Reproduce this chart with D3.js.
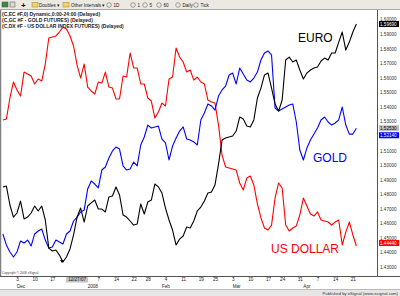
<!DOCTYPE html>
<html>
<head>
<meta charset="utf-8">
<script src="https://cdn.jsdelivr.net/npm/d3@7"></script>
<style>
  body { margin: 0; background: #fff; }
  svg { display: block; font-family: Arial, "Liberation Sans", sans-serif; }
</style>
</head>
<body>
<svg id="chart"></svg>
<script>
/* trading days shown on the chart */
var dates = [
  "2007-11-27","2007-11-28","2007-11-29","2007-11-30",
  "2007-12-03","2007-12-04","2007-12-05","2007-12-06","2007-12-07","2007-12-10","2007-12-11","2007-12-12","2007-12-13","2007-12-14",
  "2007-12-17","2007-12-18","2007-12-19","2007-12-20","2007-12-21","2007-12-24","2007-12-26","2007-12-27","2007-12-28","2007-12-31",
  "2008-01-02","2008-01-03","2008-01-04","2008-01-07","2008-01-08","2008-01-09","2008-01-10","2008-01-11","2008-01-14","2008-01-15",
  "2008-01-16","2008-01-17","2008-01-18","2008-01-22","2008-01-23","2008-01-24","2008-01-25","2008-01-28","2008-01-29","2008-01-30",
  "2008-01-31","2008-02-01","2008-02-04","2008-02-05","2008-02-06","2008-02-07","2008-02-08","2008-02-11","2008-02-12","2008-02-13",
  "2008-02-14","2008-02-15","2008-02-19","2008-02-20","2008-02-21","2008-02-22","2008-02-25","2008-02-26","2008-02-27","2008-02-28",
  "2008-02-29","2008-03-03","2008-03-04","2008-03-05","2008-03-06","2008-03-07","2008-03-10","2008-03-11","2008-03-12","2008-03-13",
  "2008-03-14","2008-03-17","2008-03-18","2008-03-19","2008-03-20","2008-03-24","2008-03-25","2008-03-26","2008-03-27","2008-03-28",
  "2008-03-31","2008-04-01","2008-04-02","2008-04-03","2008-04-04","2008-04-07","2008-04-08","2008-04-09","2008-04-10","2008-04-11",
  "2008-04-14","2008-04-15","2008-04-16","2008-04-17","2008-04-18","2008-04-21","2008-04-22"
];

/* values as plotted against the right hand scale */
var euro = [
  1.4850,1.4856,1.4726,1.4643,1.4671,1.4753,1.4630,1.4643,1.4671,1.4719,
  1.4685,1.4719,1.4623,1.4430,1.4410,1.4417,1.4382,1.4334,1.4369,1.4424,
  1.4520,1.4643,1.4705,1.4609,1.4719,1.4740,1.4760,1.4698,1.4698,1.4678,
  1.4781,1.4788,1.4850,1.4795,1.4657,1.4643,1.4616,1.4588,1.4595,1.4733,
  1.4664,1.4746,1.4760,1.4870,1.4850,1.4808,1.4705,1.4623,1.4554,1.4451,
  1.4492,1.4513,1.4575,1.4568,1.4616,1.4685,1.4712,1.4753,1.4808,1.4815,
  1.4863,1.5007,1.5172,1.5186,1.5193,1.5200,1.5234,1.5330,1.5316,1.5268,
  1.5262,1.5310,1.5461,1.5529,1.5619,1.5632,1.5529,1.5420,1.5371,1.5447,
  1.5722,1.5742,1.5708,1.5722,1.5653,1.5591,1.5632,1.5653,1.5667,1.5674,
  1.5715,1.5735,1.5722,1.5770,1.5770,1.5845,1.5914,1.5790,1.5845,1.5914,
  1.5969
];
var gold = [
  1.4527,1.4451,1.4403,1.4369,1.4403,1.4479,1.4465,1.4485,1.4444,1.4527,
  1.4547,1.4561,1.4485,1.4430,1.4437,1.4485,1.4472,1.4458,1.4527,1.4547,
  1.4616,1.4643,1.4678,1.4691,1.4836,1.4891,1.4870,1.4843,1.4966,1.4987,
  1.5049,1.5097,1.5124,1.5110,1.4994,1.4966,1.4973,1.5021,1.4994,1.5138,
  1.5193,1.5275,1.5255,1.5262,1.5268,1.5179,1.5152,1.5035,1.5131,1.5186,
  1.5234,1.5262,1.5179,1.5172,1.5159,1.5138,1.5310,1.5358,1.5420,1.5406,
  1.5378,1.5474,1.5516,1.5543,1.5619,1.5632,1.5557,1.5667,1.5626,1.5584,
  1.5571,1.5598,1.5639,1.5722,1.5770,1.5784,1.5756,1.5392,1.5371,1.5385,
  1.5399,1.5413,1.5420,1.5296,1.5104,1.5035,1.5117,1.5172,1.5213,1.5255,
  1.5310,1.5330,1.5296,1.5275,1.5289,1.5310,1.5399,1.5275,1.5213,1.5213,
  1.5253
];
var usd = [
  1.5310,1.5316,1.5461,1.5571,1.5516,1.5474,1.5639,1.5626,1.5612,1.5557,
  1.5591,1.5577,1.5694,1.5873,1.5880,1.5887,1.5914,1.5948,1.5935,1.5887,
  1.5818,1.5687,1.5598,1.5694,1.5536,1.5509,1.5488,1.5571,1.5564,1.5639,
  1.5536,1.5529,1.5454,1.5454,1.5612,1.5605,1.5770,1.5667,1.5667,1.5557,
  1.5557,1.5461,1.5440,1.5323,1.5365,1.5426,1.5406,1.5591,1.5605,1.5804,
  1.5742,1.5708,1.5639,1.5653,1.5584,1.5605,1.5571,1.5557,1.5447,1.5433,
  1.5426,1.5275,1.5069,1.4987,1.4980,1.4973,1.4966,1.4877,1.4829,1.4911,
  1.4925,1.4863,1.4733,1.4637,1.4568,1.4554,1.4588,1.4774,1.4877,1.4843,
  1.4588,1.4547,1.4568,1.4582,1.4657,1.4774,1.4719,1.4664,1.4650,1.4678,
  1.4623,1.4616,1.4609,1.4588,1.4609,1.4623,1.4451,1.4540,1.4609,1.4520,
  1.4444
];

var yTicks = [1.43,1.44,1.45,1.46,1.47,1.48,1.49,1.50,1.51,1.52,1.53,1.54,1.55,1.56,1.57,1.58,1.59,1.60];
var xTickDates = ["2007-12-03","2007-12-10","2007-12-17","2008-01-07","2008-01-14","2008-01-22","2008-01-28",
  "2008-02-04","2008-02-11","2008-02-19","2008-02-25","2008-03-03","2008-03-10","2008-03-17","2008-03-24",
  "2008-03-31","2008-04-07","2008-04-14","2008-04-21"];
var xTickLabels = ["3","10","17","7","14","22","28","4","11","19","25","3","10","17","24","31","7","14","21"];
var monthDates = ["2007-12-03","2008-01-02","2008-02-01","2008-03-03","2008-04-01"];
var monthLabels = ["Dec","2008","Feb","Mar","Apr"];
var cursorDate = "2007-12-27";
var cursorLabel = "12/27/07";
var legendLines = [
  "(C,EC #F,0) Dynamic,0:00-24:00 (Delayed)",
  "(C,GC #F - GOLD FUTURES)  (Delayed)",
  "(C,DX #F - US DOLLAR INDEX FUTURES)  (Delayed)"
];
var toolbarItems = ["1D", "1", "5", "60", "Daily", "Tick"];

var width = 400;
var height = 296;
var plotTop = 10;
var plotRight = 377;
var plotBottom = 276;

var svg = d3.select("#chart").attr("width", width).attr("height", height);

var xScale = d3.scalePoint().domain(dates).range([2.85, 356.4]);
var yScale = d3.scaleLinear().domain([1.43, 1.60]).range([267, 19.5]);

// background + frame
svg.append("rect").attr("width", width).attr("height", height).attr("fill", "#fff");
svg.append("line").attr("x1", 0.5).attr("x2", 0.5).attr("y1", plotTop).attr("y2", plotBottom)
  .attr("stroke", "#808080").attr("stroke-width", 1.5);
svg.append("line").attr("x1", plotRight + 0.5).attr("x2", plotRight + 0.5).attr("y1", plotTop).attr("y2", plotBottom)
  .attr("stroke", "#555");
svg.append("line").attr("x1", 0).attr("x2", width).attr("y1", plotBottom + 0.5).attr("y2", plotBottom + 0.5)
  .attr("stroke", "#555");

// toolbar
var bar = svg.append("g");
bar.append("rect").attr("width", width).attr("height", 10).attr("fill", "#ebe9e1");
bar.append("line").attr("x1", 0).attr("x2", width).attr("y1", 9.5).attr("y2", 9.5).attr("stroke", "#a8a8a8");
bar.append("rect").attr("x", 2).attr("y", 2).attr("width", 6).attr("height", 5).attr("fill", "#3c8c3c").attr("stroke", "#444").attr("stroke-width", 0.5);
bar.append("rect").attr("x", 10).attr("y", 2).attr("width", 5).attr("height", 5).attr("fill", "#d8d8d8").attr("stroke", "#555").attr("stroke-width", 0.5);
bar.append("text").attr("x", 21).attr("y", 7.5).attr("font-size", 8).attr("font-weight", "bold").text("+");
[32, 63].forEach((x) => {
  bar.append("rect").attr("x", x).attr("y", 2.5).attr("width", 6).attr("height", 4.5)
    .attr("fill", "#f3d36b").attr("stroke", "#a08020").attr("stroke-width", 0.5);
});
bar.append("text").attr("x", 39).attr("y", 7).attr("font-size", 4.6).attr("fill", "#222").text("Doubles  \u25BE");
bar.append("text").attr("x", 71).attr("y", 7).attr("font-size", 4.6).attr("fill", "#222").text("Other Intervals  \u25BE");
var itemX = [109, 133, 145, 159, 178, 196];
toolbarItems.forEach((t, i) => {
  bar.append("circle").attr("cx", itemX[i]).attr("cy", 5).attr("r", 2.3)
    .attr("fill", "none").attr("stroke", "#555").attr("stroke-width", 0.5);
  bar.append("text").attr("x", itemX[i] + 4.5).attr("y", 7).attr("font-size", 4.6).attr("fill", "#222").text(t);
});

// legend lines
svg.selectAll(".legend").data(legendLines).enter().append("text")
  .attr("class", "legend")
  .attr("x", 2).attr("y", (d, i) => 15.5 + i * 6)
  .attr("font-size", 5).attr("font-weight", "bold").attr("fill", "#222")
  .text((d) => d);

// right axis
var yAxis = d3.axisRight(yScale).tickValues(yTicks).tickSize(0).tickPadding(3)
  .tickFormat(d3.format(".5f"));
svg.append("g")
  .attr("transform", "translate(" + plotRight + ",0)")
  .call(yAxis)
  .call((g) => g.select(".domain").remove())
  .selectAll("text").attr("font-size", 4.6).attr("fill", "#333").attr("font-family", "Arial, 'Liberation Sans', sans-serif");

// bottom axis
var xAxis = d3.axisBottom(xScale).tickValues(xTickDates).tickSize(1.5).tickPadding(0.5)
  .tickFormat((d) => xTickLabels[xTickDates.indexOf(d)]);
svg.append("g")
  .attr("transform", "translate(0," + plotBottom + ")")
  .call(xAxis)
  .call((g) => g.select(".domain").remove())
  .call((g) => g.selectAll("line").attr("stroke", "#555"))
  .selectAll("text").attr("font-size", 4.6).attr("fill", "#222").attr("font-family", "Arial, 'Liberation Sans', sans-serif");

svg.selectAll(".month").data(monthLabels).enter().append("text")
  .attr("class", "month")
  .attr("x", (d, i) => xScale(monthDates[i]))
  .attr("y", 287.5)
  .attr("font-size", 4.6).attr("fill", "#222")
  .text((d) => d);

// cursor date tag
var cx = xScale(cursorDate);
svg.append("rect").attr("x", cx - 11).attr("y", 277).attr("width", 22).attr("height", 5.5).attr("fill", "#c4c4c4");
svg.append("text").attr("x", cx).attr("y", 281.3).attr("text-anchor", "middle")
  .attr("font-size", 4.6).attr("fill", "#222").text(cursorLabel);
svg.append("path").attr("d", "M60,260 L64,260 L62,263 Z").attr("fill", "#000");

svg.append("text").attr("x", 2).attr("y", 274).attr("font-size", 3.2).attr("fill", "#444")
  .text("Copyright \u00A9 2008 eSignal");

// series
var line = d3.line().x((d, i) => xScale(dates[i])).y((d) => yScale(d));
var series = [
  { values: usd, color: "#ff0000" },
  { values: gold, color: "#0000ff" },
  { values: euro, color: "#000000" }
];
svg.selectAll(".series").data(series).enter().append("path")
  .attr("class", "series")
  .attr("d", (d) => line(d.values))
  .attr("fill", "none")
  .attr("stroke", (d) => d.color)
  .attr("stroke-width", 1.1)
  .attr("stroke-linejoin", "round");

// series names
var names = [
  { text: "EURO", x: 298, y: 41.5, color: "#000" },
  { text: "GOLD", x: 313, y: 161.5, color: "#0000ff" },
  { text: "US DOLLAR", x: 271, y: 252.5, color: "#ff0000" }
];
svg.selectAll(".name").data(names).enter().append("text")
  .attr("class", "name")
  .attr("x", (d) => d.x).attr("y", (d) => d.y)
  .attr("font-size", 12).attr("fill", (d) => d.color)
  .text((d) => d.text);

// last value tags on the scale
var tags = [
  { v: euro[euro.length - 1], y: yScale(euro[euro.length - 1]), fill: "#000", color: "#fff" },
  { v: gold[gold.length - 1], y: yScale(gold[gold.length - 1]), fill: "#c0c0c0", color: "#000" },
  { v: 1.5214, y: yScale(gold[gold.length - 1]) + 7, fill: "#0000ff", color: "#fff" },
  { v: usd[usd.length - 1], y: yScale(usd[usd.length - 1]) - 3, fill: "#ff0000", color: "#fff" }
];
var tag = svg.selectAll(".tag").data(tags).enter().append("g").attr("class", "tag");
tag.append("rect").attr("x", 379).attr("y", (d) => d.y - 3).attr("width", 20).attr("height", 6)
  .attr("fill", (d) => d.fill);
tag.append("text").attr("x", 380).attr("y", (d) => d.y + 1.7)
  .attr("font-size", 4.6).attr("fill", (d) => d.color)
  .text((d) => d3.format(".5f")(d.v));

// footer
svg.append("rect").attr("x", 0).attr("y", 289).attr("width", width).attr("height", 7).attr("fill", "#e6e6e6");
svg.append("line").attr("x1", 0).attr("x2", width).attr("y1", 289.5).attr("y2", 289.5).attr("stroke", "#bbb");
svg.append("text").attr("x", 398).attr("y", 294.5).attr("text-anchor", "end")
  .attr("font-size", 4.2).attr("fill", "#333").text("Published by eSignal (www.esignal.com)");
</script>
</body>
</html>
